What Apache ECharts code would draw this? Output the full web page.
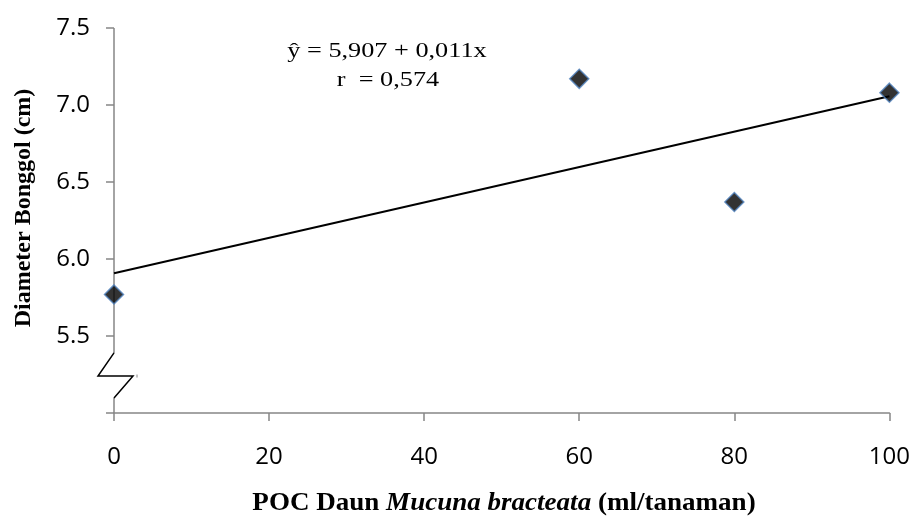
<!DOCTYPE html>
<html>
<head>
<meta charset="utf-8">
<script src="https://cdn.jsdelivr.net/npm/echarts@6/dist/echarts.min.js"></script>
<style>
html,body{margin:0;padding:0;background:#fff;}
#chart{width:913px;height:518px;}
</style>
</head>
<body>
<div id="chart"></div>
<script>
const doseX = [0, 60, 80, 100];
const diameterY = [5.77, 7.17, 6.37, 7.08];
const trendX = [0, 100];
const trendY = [5.907, 7.057];
const xTicks = [0, 20, 40, 60, 80, 100];
const yTicks = [5.0, 5.5, 6.0, 6.5, 7.0, 7.5];
const yBreak = [5.39, 5.24, 5.097];

const chart = echarts.init(document.getElementById('chart'));
const axisColor = '#868686';
const tickFont = 'Open Sans';

chart.setOption({
  animation: false,
  grid: { left: 114, right: 22, top: 28, bottom: 105 },
  xAxis: {
    type: 'value', min: xTicks[0], max: xTicks[xTicks.length - 1], interval: 20,
    splitLine: { show: false },
    axisLine: { show: true, lineStyle: { color: axisColor, width: 1.5 } },
    axisTick: { show: true, length: 8, lineStyle: { color: axisColor, width: 1.5 } },
    axisLabel: { margin: 32, fontFamily: tickFont, fontSize: 24, color: '#000' }
  },
  yAxis: {
    type: 'value', min: yTicks[0], max: yTicks[yTicks.length - 1], interval: 0.5,
    splitLine: { show: false },
    axisLine: { show: false },
    axisTick: { show: true, length: 8, lineStyle: { color: axisColor, width: 1.5 } },
    axisLabel: {
      margin: 24, fontFamily: tickFont, fontSize: 24, color: '#000',
      formatter: v => (Math.abs(v - yTicks[0]) < 1e-9 ? '' : v.toFixed(1))
    }
  },
  graphic: [
    { type: 'text', x: 504, y: 503, scaleX: 1.04,
      style: { rich: {
        b: { fontFamily: 'Liberation Serif', fontWeight: 'bold', fontSize: 26, fill: '#000' },
        i: { fontFamily: 'Liberation Serif', fontWeight: 'bold', fontStyle: 'italic', fontSize: 26, fill: '#000' }
      }, text: '{b|POC Daun }{i|Mucuna bracteata}{b| (ml/tanaman)}',
      align: 'center', verticalAlign: 'middle' } },
    { type: 'text', x: 24, y: 208, rotation: Math.PI / 2,
      style: { text: 'Diameter Bonggol (cm)', fontFamily: 'Liberation Serif', fontWeight: 'bold',
        fontSize: 24, fill: '#000', align: 'center', verticalAlign: 'middle' } },
    { type: 'text', x: 387, y: 51, scaleX: 1.25,
      style: { text: 'ŷ = 5,907 + 0,011x', fontFamily: 'Liberation Serif', fontSize: 21,
        fill: '#000', align: 'center', verticalAlign: 'middle' } },
    { type: 'text', x: 388, y: 80, scaleX: 1.25,
      style: { text: 'r  = 0,574', fontFamily: 'Liberation Serif', fontSize: 21,
        fill: '#000', align: 'center', verticalAlign: 'middle' } }
  ],
  series: [
    {
      type: 'custom', silent: true, z: 1,
      data: [[0]],
      renderItem: (params, api) => {
        const top = api.coord([0, yTicks[yTicks.length - 1]]);
        const b0 = api.coord([0, yBreak[0]]);
        const b1 = api.coord([0, yBreak[1]]);
        const b2 = api.coord([0, yBreak[2]]);
        const bot = api.coord([0, yTicks[0]]);
        return { type: 'group', children: [
          { type: 'line', shape: { x1: top[0], y1: top[1], x2: b0[0], y2: b0[1] },
            style: { stroke: axisColor, lineWidth: 1.5 } },
          { type: 'line', shape: { x1: b2[0], y1: b2[1], x2: bot[0], y2: bot[1] },
            style: { stroke: axisColor, lineWidth: 1.5 } },
          { type: 'polyline', shape: { points: [
              [b0[0], b0[1]], [b1[0] - 16, b1[1]], [b1[0] + 19, b1[1]], [b2[0], b2[1]]
            ] }, style: { stroke: '#000', lineWidth: 1.5, fill: null } },
          { type: 'line', shape: { x1: b1[0] + 23, y1: b1[1] - 1.5, x2: b1[0] + 23, y2: b1[1] + 1.5 },
            style: { stroke: axisColor, lineWidth: 1 } }
        ] };
      }
    },
    {
      type: 'line', z: 2,
      data: trendX.map((x, i) => [x, trendY[i]]),
      symbol: 'none',
      lineStyle: { color: '#000', width: 2 }
    },
    {
      type: 'scatter', z: 3,
      data: doseX.map((x, i) => [x, diameterY[i]]),
      symbol: 'diamond', symbolSize: [19, 19],
      itemStyle: { color: '#000', borderColor: '#4f81bd', borderWidth: 1.5 }
    }
  ]
});
</script>
</body>
</html>
